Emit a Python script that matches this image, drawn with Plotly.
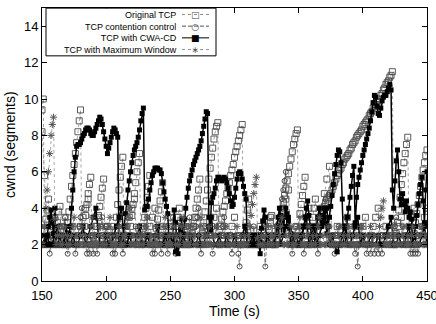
import plotly.graph_objects as go

# ---------------- data ----------------
t1 = list(range(150, 451))        # 1 s samples
t2 = list(range(150, 451, 2))     # 2 s samples (second flow of same variant)

orig_a = [
 9.4, 10.0, 2.0, 3.4, 3.9, 4.5, 2.0, 2.5, 2.0, 2.4,
 2.0, 2.6, 3.2, 3.8, 4.1, 2.0, 2.4, 2.0, 2.0, 2.6,
 3.2, 3.8, 4.5, 5.2, 5.8, 6.4, 7.0, 7.6, 8.2, 8.8,
 9.4, 2.0, 2.5, 3.0, 3.6, 4.2, 4.8, 5.3, 5.7, 2.0,
 2.4, 2.0, 2.4, 3.0, 3.6, 4.1, 4.6, 5.1, 5.6, 2.0,
 2.5, 3.0, 2.0, 2.4, 2.0, 2.4, 2.2, 2.8, 3.5, 4.2,
 5.0, 5.7, 6.3, 6.8, 2.0, 2.4, 2.0, 2.2, 2.5, 3.0,
 3.6, 4.2, 4.8, 5.4, 6.0, 6.5, 7.0, 2.0, 2.4, 2.9,
 3.5, 4.0, 4.6, 5.2, 5.8, 2.0, 2.4, 2.0, 2.4, 2.9,
 3.4, 3.9, 4.4, 4.9, 5.4, 2.0, 2.4, 2.0, 2.5, 3.0,
 3.5, 2.0, 2.4, 2.0, 2.5, 3.0, 3.5, 4.0, 2.0, 2.5,
 3.0, 2.0, 2.4, 2.8, 3.2, 2.0, 2.2, 2.6, 3.0, 3.5,
 4.0, 4.5, 5.0, 5.6, 2.0, 2.6, 3.2, 3.8, 4.4, 5.0,
 5.6, 6.2, 6.8, 7.3, 7.8, 8.2, 8.5, 8.7, 2.0, 3.0,
 3.4, 3.8, 4.1, 4.4, 4.8, 5.1, 5.4, 5.8, 6.1, 6.4,
 6.8, 7.1, 7.4, 7.7, 8.0, 8.3, 8.6, 2.0, 2.5, 3.2,
 3.9, 4.5, 2.0, 2.0, 2.4, 2.8, 2.0, 2.0, 2.5, 2.0,
 2.0, 2.4, 2.0, 2.5, 3.0, 2.0, 2.4, 2.8, 3.2, 3.6,
 2.0, 2.0, 2.0, 2.3, 2.7, 3.1, 3.5, 3.9, 4.3, 4.7,
 5.1, 5.5, 5.9, 6.3, 6.7, 7.1, 7.5, 7.8, 8.1, 8.3,
 2.0, 3.7, 4.2, 4.7, 5.2, 5.7, 2.0, 2.0, 2.0, 2.5,
 3.0, 3.5, 4.0, 4.5, 2.0, 3.0, 3.3, 3.5, 3.7, 3.9,
 4.1, 4.3, 4.5, 4.6, 4.7, 4.8, 5.0, 5.2, 5.4, 5.6,
 5.8, 5.9, 6.1, 6.2, 6.4, 6.5, 6.7, 6.8, 6.9, 7.0,
 7.2, 7.3, 7.5, 7.6, 7.7, 7.9, 8.0, 8.1, 8.2, 8.3,
 8.5, 8.6, 8.7, 8.8, 8.9, 9.1, 9.2, 9.3, 9.5, 9.6,
 9.7, 9.8, 9.9, 10.0, 10.2, 10.3, 10.5, 10.6, 10.8, 10.9,
 11.0, 11.2, 11.3, 11.5, 2.0, 2.0, 2.6, 3.2, 3.9, 4.6,
 5.3, 5.9, 6.5, 7.0, 7.5, 7.9, 2.0, 2.2, 2.5, 2.0,
 2.6, 3.2, 3.7, 4.2, 4.7, 5.2, 5.7, 6.1, 6.5, 6.9,
 7.2]

orig_b = [
 8.2, 5.8, 2.0, 2.5, 3.0, 3.5, 2.0, 2.5, 3.0, 3.5,
 2.0, 2.5, 3.0, 2.0, 2.5, 3.0, 3.5, 4.0, 4.5, 2.0,
 2.5, 3.0, 3.5, 2.0, 2.5, 3.0, 2.0, 2.5, 3.0, 2.0,
 2.5, 2.0, 2.5, 3.0, 3.5, 4.0, 4.5, 2.0, 2.5, 3.0,
 2.0, 2.5, 3.0, 3.5, 4.0, 2.0, 2.5, 3.0, 2.0, 2.5,
 2.0, 2.5, 3.0, 3.5, 2.0, 2.5, 3.0, 2.0, 2.5, 3.0,
 3.5, 2.0, 2.5, 3.0, 2.0, 2.5, 3.0, 3.5, 4.0, 2.0,
 2.5, 3.0, 2.0, 2.5, 3.0, 3.5, 2.0, 2.5, 2.0, 2.5,
 3.0, 2.0, 2.5, 2.0, 2.5, 3.0, 2.0, 2.5, 3.0, 3.5,
 2.0, 2.5, 3.0, 3.5, 4.0, 4.5, 5.0, 2.0, 2.5, 3.0,
 2.0, 2.5, 3.0, 3.5, 4.0, 2.0, 2.5, 3.0, 3.5, 4.0,
 4.8, 5.6, 6.3, 2.0, 2.5, 3.0, 2.0, 2.5, 3.0, 3.5,
 2.0, 2.5, 3.0, 2.0, 2.5, 3.0, 3.5, 2.0, 2.5, 3.0,
 3.5, 4.0, 2.0, 2.5, 3.0, 2.0, 2.5, 2.0, 2.5, 3.0,
 3.5, 2.0, 2.5, 3.0, 3.5, 4.0, 2.0, 2.5, 3.0, 3.5,
 4.0]

cc = [
 2.0, 2.5, 3.0, 2.0, 2.5, 2.0, 1.5, 2.0, 2.5, 3.0,
 3.5, 2.0, 2.0, 2.5, 3.0, 2.0, 2.5, 3.0, 3.5, 2.0,
 1.5, 2.0, 2.5, 3.0, 2.0, 2.5, 1.5, 2.0, 2.5, 3.0,
 3.5, 4.0, 2.0, 2.5, 2.0, 1.5, 2.0, 1.5, 2.0, 2.5,
 1.5, 2.0, 2.5, 1.5, 2.0, 2.5, 3.0, 3.5, 2.0, 2.5,
 3.0, 2.0, 2.5, 2.0, 2.5, 1.5, 2.0, 1.5, 2.0, 2.5,
 3.0, 3.5, 2.0, 1.5, 2.0, 2.5, 3.0, 3.5, 4.0, 2.0,
 2.5, 2.0, 2.5, 3.0, 2.0, 2.5, 3.0, 2.0, 2.5, 2.0,
 2.5, 3.0, 3.5, 2.0, 2.5, 2.0, 1.5, 2.0, 1.5, 2.0,
 2.5, 3.0, 2.0, 1.5, 2.0, 2.5, 3.0, 2.0, 1.5, 2.0,
 2.5, 3.0, 3.5, 2.0, 1.5, 2.0, 2.5, 2.0, 2.5, 3.0,
 2.0, 2.5, 2.0, 2.5, 3.0, 3.5, 2.0, 2.5, 2.0, 2.5,
 3.0, 3.5, 4.0, 2.0, 1.5, 2.0, 2.5, 3.0, 2.0, 2.5,
 2.0, 2.5, 2.0, 1.5, 2.0, 2.5, 3.0, 2.0, 2.5, 2.0,
 2.5, 3.0, 3.5, 2.0, 2.5, 2.0, 2.5, 2.0, 1.5, 2.0,
 2.5, 2.0, 2.5, 1.5, 0.8, 2.0, 2.0, 2.5, 2.0, 2.0,
 2.0, 2.5, 2.0, 2.0, 2.5, 3.0, 2.0, 2.0, 2.5, 2.0,
 2.0, 2.5, 2.0, 2.0, 0.8, 2.0, 2.5, 2.0, 2.0, 2.5,
 2.0, 2.5, 2.0, 2.5, 3.0, 3.5, 4.0, 4.5, 5.0, 5.5,
 6.0, 2.0, 2.5, 2.0, 2.5, 1.5, 2.0, 2.5, 3.0, 2.0,
 2.5, 3.0, 2.0, 2.5, 1.5, 2.0, 2.5, 3.0, 2.0, 2.5,
 2.0, 2.5, 3.0, 2.0, 2.5, 1.5, 2.0, 2.5, 3.0, 3.5,
 4.0, 4.5, 2.0, 2.5, 3.0, 2.0, 2.5, 2.0, 1.5, 2.0,
 2.5, 3.0, 2.0, 2.5, 2.0, 2.5, 3.0, 3.5, 2.0, 2.5,
 3.0, 2.0, 2.5, 2.0, 1.5, 2.0, 0.8, 2.0, 2.5, 3.0,
 2.0, 2.5, 2.0, 1.5, 2.0, 2.5, 1.5, 2.0, 2.5, 1.5,
 2.0, 2.5, 1.5, 2.0, 2.5, 1.5, 2.0, 2.5, 2.0, 2.5,
 3.0, 2.0, 2.5, 2.0, 2.5, 3.0, 3.5, 2.0, 2.5, 2.0,
 2.5, 3.0, 2.0, 2.5, 2.0, 2.5, 2.0, 1.5, 2.0, 1.5,
 2.0, 1.5, 2.0, 1.5, 2.0, 2.5, 3.0, 2.0, 2.5, 2.0,
 2.5]

cwa_a = [
 2.0, 2.0, 2.5, 2.0, 2.5, 3.0, 3.5, 3.9, 3.2, 2.6,
 4.0, 2.0, 2.0, 2.0, 2.5, 2.0, 2.0, 2.0, 2.5, 3.0,
 2.0, 2.6, 3.0, 4.0, 5.0, 6.0, 6.8, 7.4, 7.5, 7.5,
 7.6, 7.8, 8.0, 8.1, 8.3, 8.4, 8.4, 8.3, 8.1, 8.0,
 8.0, 8.2, 8.4, 8.6, 8.8, 9.0, 8.9, 8.6, 8.2, 7.8,
 7.4, 7.0, 7.3, 7.6, 7.9, 8.2, 8.4, 8.3, 8.1, 7.9,
 2.0, 2.5, 2.0, 2.0, 3.0, 3.7, 4.3, 5.0, 5.5, 6.0,
 6.5, 6.9, 7.2, 7.4, 7.6, 7.9, 8.3, 8.8, 9.2, 9.5,
 3.9, 4.1, 4.1, 4.5, 5.0, 5.4, 5.8, 6.0, 6.2, 6.2,
 6.2, 6.1, 6.1, 5.9, 5.4, 4.9, 4.5, 4.1, 3.7, 2.0,
 2.0, 2.0, 2.4, 3.9, 3.2, 2.5, 1.5, 2.0, 2.8, 3.4,
 2.6, 3.4, 4.0, 4.6, 5.1, 5.5, 5.8, 6.1, 6.4, 6.6,
 6.8, 7.0, 7.2, 7.4, 7.7, 8.1, 8.5, 8.9, 9.3, 9.2,
 3.5, 2.8, 4.3, 4.6, 4.8, 5.1, 5.5, 5.7, 5.7, 5.6,
 5.5, 5.6, 5.7, 5.6, 5.4, 5.1, 4.8, 4.4, 4.1, 4.2,
 4.6, 5.1, 5.6, 5.9, 6.0, 5.9, 5.6, 5.2, 4.8, 4.5,
 2.0, 2.0, 2.0, 2.0, 2.0, 2.5, 2.0, 2.0, 2.5, 2.0,
 1.5, 2.9, 3.3, 3.9, 3.5, 2.0, 2.0, 2.0, 2.0, 2.0,
 2.0, 2.0, 2.5, 3.0, 3.5, 4.0, 3.6, 3.2, 2.8, 3.5,
 4.0, 3.7, 3.3, 2.9, 2.6, 2.3, 2.0, 2.0, 2.0, 2.0,
 2.0, 2.0, 2.0, 2.5, 3.0, 3.5, 4.0, 4.4, 3.6, 3.0,
 2.4, 2.0, 2.0, 2.5, 3.0, 3.5, 4.0, 3.6, 3.2, 3.6,
 4.0, 3.2, 2.6, 3.0, 3.5, 4.1, 4.7, 5.3, 5.9, 6.4,
 6.9, 7.2, 7.1, 6.5, 4.5, 2.0, 2.0, 2.5, 3.5, 4.0,
 4.6, 5.2, 5.8, 6.3, 3.2, 4.6, 5.3, 5.7, 6.1, 6.5,
 6.9, 7.2, 7.5, 7.8, 8.1, 8.4, 8.8, 9.3, 9.8, 10.2,
 10.1, 9.6, 9.2, 9.1, 9.5, 9.9, 10.1, 10.2, 10.2, 10.4,
 10.6, 10.8, 10.5, 5.0, 4.0, 5.5, 6.6, 7.2, 6.0, 4.5,
 4.2, 4.8, 4.2, 3.8, 4.4, 4.0, 3.5, 3.8, 3.4, 2.0,
 2.4, 3.0, 3.6, 4.2, 4.8, 5.3, 5.7, 4.4, 3.2, 5.0,
 6.0]

cwa_b = [
 2.0, 2.0, 2.5, 2.0, 2.0, 2.5, 3.0, 2.0, 2.0, 2.5,
 2.0, 2.0, 2.5, 2.0, 2.0, 2.5, 3.0, 2.0, 2.5, 3.0,
 3.5, 4.0, 2.5, 2.0, 2.0, 2.5, 2.0, 2.0, 2.5, 3.0,
 3.5, 4.0, 2.0, 2.0, 2.5, 2.0, 2.0, 2.5, 3.0, 2.0,
 2.0, 2.5, 2.0, 2.0, 2.5, 3.0, 2.0, 2.0, 2.5, 2.0,
 2.0, 2.5, 1.6, 2.0, 2.0, 2.5, 2.0, 2.0, 2.5, 2.0,
 2.0, 2.5, 2.0, 2.0, 2.5, 3.0, 3.5, 2.0, 2.0, 2.5,
 2.0, 2.0, 2.5, 2.0, 2.0, 2.5, 2.0, 2.0, 2.5, 3.0,
 2.0, 2.0, 2.5, 2.0, 2.0, 2.5, 2.0, 2.0, 2.5, 2.0,
 2.0, 2.5, 3.0, 2.0, 2.5, 3.0, 3.5, 2.0, 2.0, 2.5,
 2.0, 2.5, 3.0, 3.5, 2.0, 2.5, 3.0, 2.0, 2.5, 3.0,
 3.5, 4.0, 2.0, 2.5, 2.0, 1.6, 2.0, 2.5, 3.0, 2.0,
 2.0, 2.5, 3.0, 3.5, 2.0, 2.5, 2.0, 2.0, 2.5, 2.0,
 2.0, 2.5, 2.0, 2.0, 2.5, 3.0, 3.5, 2.0, 2.0, 2.5,
 2.0, 2.0, 2.5, 3.0, 2.0, 2.5, 2.0, 2.0, 2.5, 3.0,
 2.0]

maxw = [
 2.0, 2.0, 3.0, 4.0, 5.0, 6.0, 7.0, 8.0, 8.6, 9.0,
 3.4, 2.0, 2.5, 3.0, 2.0, 2.5, 2.0, 2.5, 3.0, 2.0,
 2.5, 2.0, 2.0, 2.5, 3.0, 3.5, 2.0, 2.5, 2.0, 2.0,
 2.5, 3.0, 2.0, 2.0, 2.5, 2.0, 2.0, 2.5, 3.0, 3.5,
 2.0, 2.5, 2.0, 2.0, 2.5, 3.0, 2.0, 2.0, 2.5, 2.0,
 2.0, 2.5, 3.0, 3.5, 2.0, 2.0, 2.5, 2.0, 2.0, 2.5,
 3.0, 2.0, 2.0, 2.5, 2.0, 2.5, 3.0, 3.5, 4.0, 2.0,
 2.0, 2.5, 2.0, 2.0, 2.5, 3.0, 2.0, 2.5, 2.0, 2.0,
 2.5, 3.0, 3.5, 2.0, 2.0, 2.5, 2.0, 2.0, 2.5, 3.0,
 2.0, 2.0, 2.5, 2.0, 2.5, 3.0, 3.5, 2.0, 2.0, 2.5,
 2.0, 2.0, 2.5, 3.0, 2.0, 2.5, 2.0, 2.0, 2.5, 3.0,
 3.5, 2.0, 2.0, 2.5, 2.0, 2.0, 2.5, 3.0, 2.0, 2.5,
 2.0, 2.0, 2.5, 3.0, 3.5, 2.0, 2.0, 2.5, 2.0, 2.5,
 3.0, 2.0, 2.0, 2.5, 2.0, 2.5, 3.0, 2.0, 2.0, 2.5,
 2.0, 2.0, 2.5, 3.0, 2.0, 2.5, 2.0, 2.0, 2.5, 2.0,
 2.0, 2.5, 3.0, 2.0, 2.0, 2.5, 2.0, 2.0, 2.5, 2.0,
 2.0, 2.5, 3.0, 3.6, 4.2, 4.8, 5.3, 5.7, 2.4, 2.0,
 2.0, 2.5, 2.0, 2.0, 2.5, 3.0, 2.0, 2.0, 2.5, 2.0,
 2.0, 2.5, 3.0, 2.0, 2.0, 2.5, 3.0, 3.5, 2.0, 2.0,
 2.5, 2.0, 2.0, 2.5, 3.0, 2.0, 2.0, 2.5, 2.0, 2.5,
 3.0, 3.5, 2.0, 2.0, 2.5, 2.0, 2.0, 2.5, 3.0, 2.0,
 2.0, 2.5, 2.0, 2.0, 2.5, 3.0, 3.5, 2.0, 2.0, 2.5,
 2.0, 2.0, 2.5, 3.0, 2.0, 2.5, 2.0, 2.0, 2.5, 2.0,
 2.0, 2.5, 3.0, 2.0, 2.0, 2.5, 2.0, 2.0, 2.5, 3.0,
 2.0, 2.0, 2.5, 2.0, 2.0, 2.5, 2.0, 2.0, 2.5, 3.0,
 2.0, 2.0, 2.5, 2.0, 2.0, 2.5, 3.0, 2.0, 2.0, 2.5,
 2.0, 1.9, 2.5, 3.0, 3.5, 4.0, 4.4, 2.0, 2.0, 2.5,
 2.0, 2.0, 2.5, 3.0, 2.0, 2.5, 2.0, 2.0, 2.5, 2.0,
 2.0, 2.5, 3.0, 2.0, 2.0, 2.5, 2.0, 2.0, 2.5, 3.0,
 2.0, 2.0, 2.5, 2.0, 2.0, 2.5, 3.0, 2.0, 2.0, 2.5,
 2.0]

labels = ["Original TCP", "TCP contention control", "TCP with CWA-CD", "TCP with Maximum Window"]
x_ticks = [150, 200, 250, 300, 350, 400, 450]
y_ticks = [0, 2, 4, 6, 8, 10, 12, 14]

FONT = "Liberation Sans, Arial, Helvetica, sans-serif"

# ---------------- styles ----------------
st_orig = dict(mode="lines+markers",
               line=dict(color="#8a8a8a", width=0.8, dash="dot"),
               marker=dict(symbol="square-open", size=6, color="#4a4a4a", line=dict(width=0.9)))
st_cc = dict(mode="lines+markers",
             line=dict(color="#555555", width=0.8, dash="4px,2px"),
             marker=dict(symbol="circle-open", size=5, color="#3a3a3a", line=dict(width=0.9)))
st_cwa = dict(mode="lines+markers",
              line=dict(color="black", width=1.5),
              marker=dict(symbol="square", size=5, color="black"))
st_mw = dict(mode="lines+markers",
             line=dict(color="#909090", width=0.8, dash="dot"),
             marker=dict(symbol="asterisk-open", size=6, color="#555555", line=dict(width=1)))

fig = go.Figure()
fig.add_trace(go.Scatter(x=t2, y=orig_b, name=labels[0], showlegend=False, **st_orig))
fig.add_trace(go.Scatter(x=t1, y=orig_a, name=labels[0], showlegend=False, **st_orig))
fig.add_trace(go.Scatter(x=t1, y=cc, name=labels[1], showlegend=False, **st_cc))
fig.add_trace(go.Scatter(x=t2, y=cwa_b, name=labels[2], showlegend=False, **st_cwa))
fig.add_trace(go.Scatter(x=t1, y=cwa_a, name=labels[2], showlegend=False, **st_cwa))
fig.add_trace(go.Scatter(x=t1, y=maxw, name=labels[3], showlegend=False, **st_mw))

# ---------------- layout ----------------
L, R, T, B = 42, 9, 8, 43
W, H = 436, 324
pw, ph = W - L - R, H - T - B

def px(x):  # pixel -> paper x
    return (x - L) / pw

def py(y):  # pixel -> paper y
    return (H - B - y) / ph

axis_common = dict(showline=True, linecolor="black", linewidth=1, mirror="ticks",
                   ticks="inside", ticklen=5, tickcolor="black", showgrid=False,
                   zeroline=False, tickfont=dict(family=FONT, size=13, color="black"))

fig.update_layout(
    width=W, height=H,
    margin=dict(l=L, r=R, t=T, b=B, autoexpand=False),
    paper_bgcolor="white", plot_bgcolor="white",
    showlegend=False,
    font=dict(family=FONT, color="black"),
    xaxis=dict(range=[150, 450], tickvals=x_ticks, automargin=False,
               ticklabeloverflow="allow", ticklabelstandoff=2, **axis_common),
    yaxis=dict(range=[0, 15], tickvals=y_ticks, automargin=False, **axis_common),
)

# custom legend (gnuplot style: text right-aligned, sample on the right)
LEG_FS = 9
line_h = 1.3 * LEG_FS
y_mid = 32
rows = [y_mid + (i - 1.5) * line_h for i in range(4)]
shapes = [dict(type="rect", xref="paper", yref="paper",
               x0=px(46), x1=px(216), y0=py(rows[-1] + 6.3), y1=py(rows[0] - 6.3),
               line=dict(color="black", width=1), fillcolor="white", layer="above")]
annotations = [dict(x=px(178), y=py(y_mid), xref="paper", yref="paper",
                    text="<br>".join(labels), align="right", showarrow=False,
                    xanchor="right", yanchor="middle", borderpad=0,
                    font=dict(family=FONT, size=LEG_FS, color="black"))]
samples = [("dot", "#8a8a8a"), ("4px,2px", "#555555"), ("solid", "black"), ("dot", "#909090")]
for yy, (dash, lc) in zip(rows, samples):
    shapes.append(dict(type="line", xref="paper", yref="paper",
                       x0=px(182), x1=px(209), y0=py(yy), y1=py(yy),
                       line=dict(color=lc, width=1, dash=dash), layer="above"))
annotations.append(dict(x=px(195.5), y=py(y_mid), xref="paper", yref="paper",
                        text="<span style='color:#4a4a4a'>\u25a1</span><br>"
                             "<span style='color:#3a3a3a'>\u25cb</span><br>"
                             "\u25a0<br>"
                             "<span style='color:#555555'>\u2217</span>",
                        align="center", showarrow=False, borderpad=0, bgcolor="rgba(0,0,0,0)",
                        xanchor="center", yanchor="middle",
                        font=dict(family="DejaVu Sans", size=LEG_FS, color="black")))

# axis titles
annotations.append(dict(x=px(235), y=py(311), xref="paper", yref="paper", text="Time (s)",
                        showarrow=False, xanchor="center", yanchor="middle",
                        font=dict(family=FONT, size=14, color="black")))
annotations.append(dict(x=px(10), y=py(145), xref="paper", yref="paper", text="cwnd (segments)",
                        showarrow=False, xanchor="center", yanchor="middle", textangle=-90,
                        font=dict(family=FONT, size=14, color="black")))

fig.update_layout(shapes=shapes, annotations=annotations)

fig.write_html("out.html")
